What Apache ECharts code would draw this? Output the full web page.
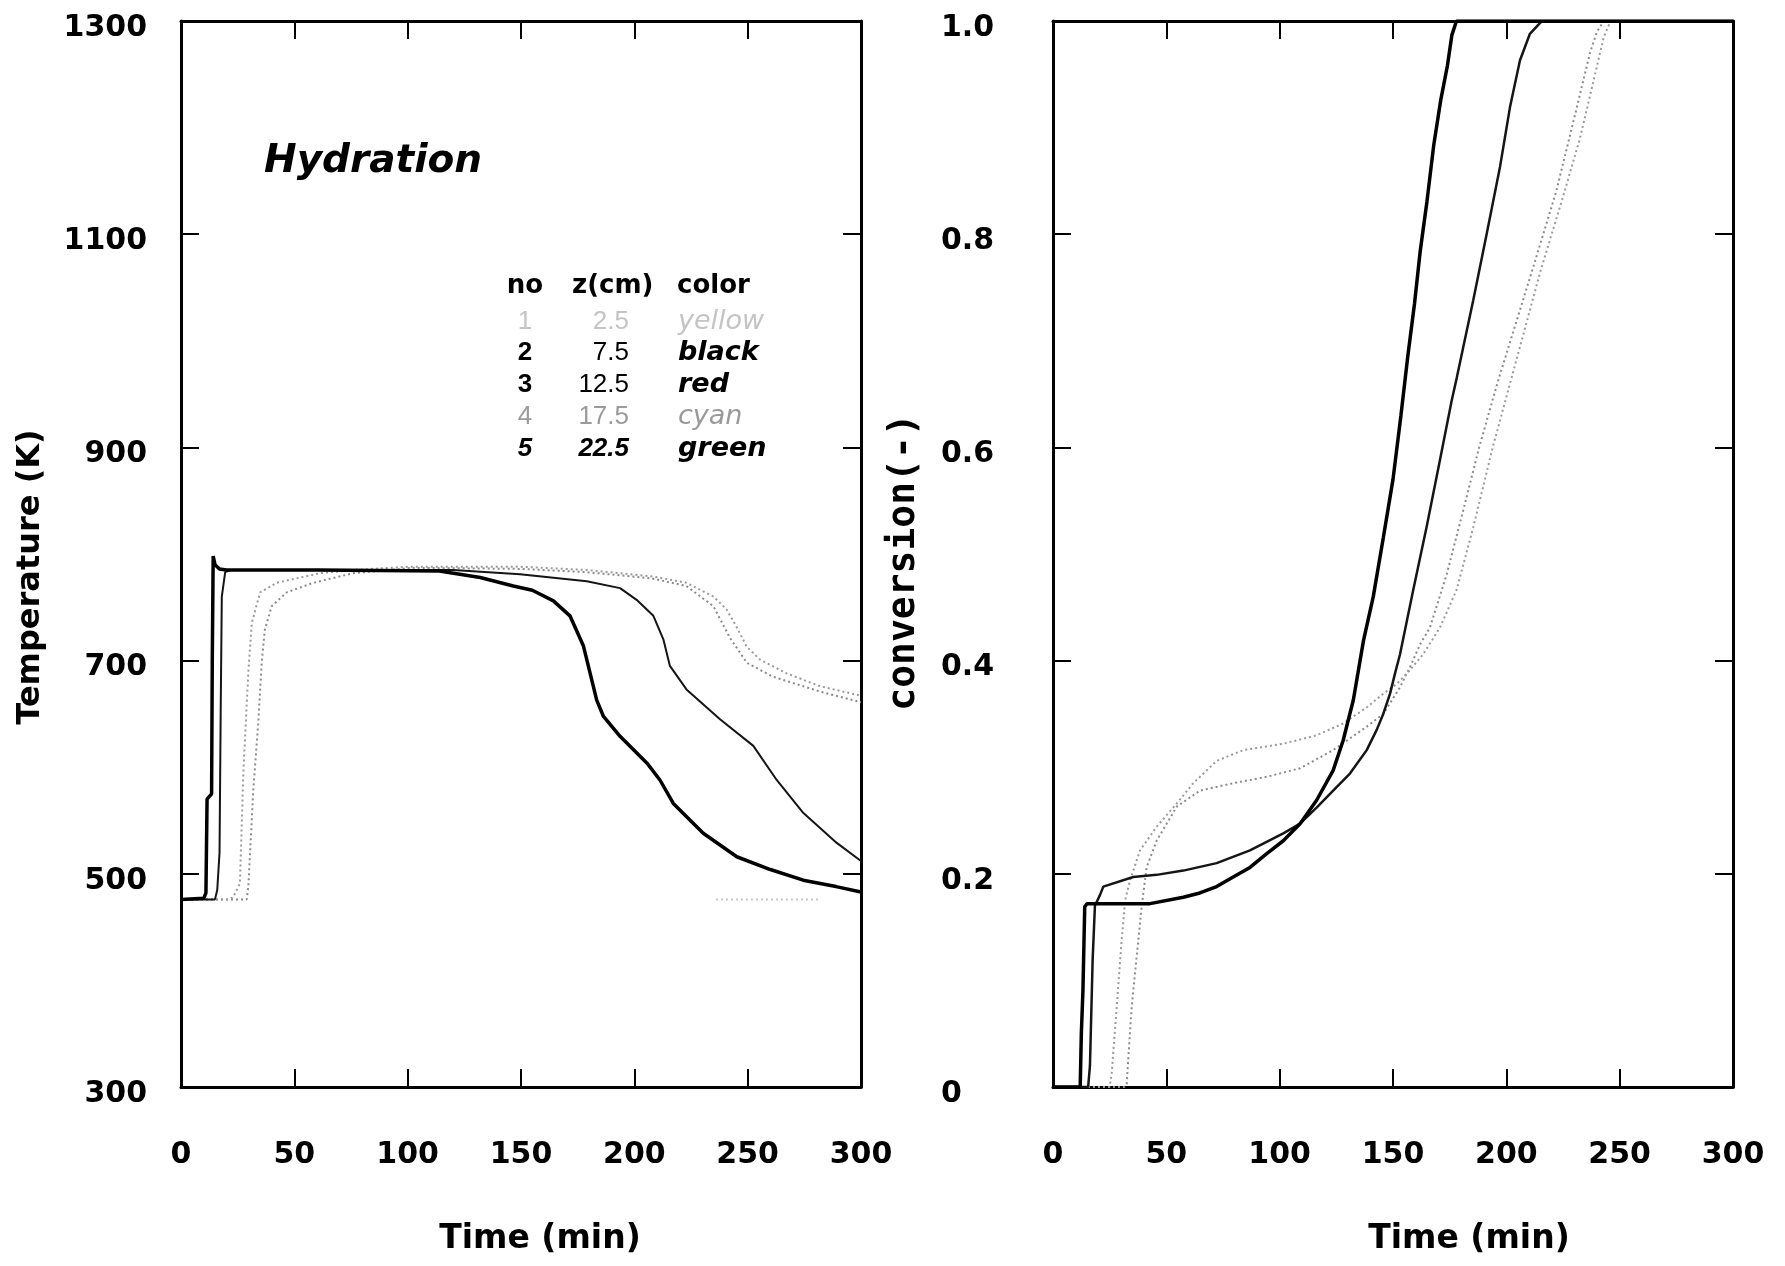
<!DOCTYPE html>
<html lang="en">
<head>
<meta charset="UTF-8">
<title>Hydration</title>
<script src="https://cdn.jsdelivr.net/npm/echarts@6/dist/echarts.min.js"></script>
<style>
    html, body { margin: 0; padding: 0; background: #fff; }
    #chart { width: 1785px; height: 1266px; }
</style>
</head>
<body>
<div id="chart"></div>
<script>
    // axis ranges / ticks
    var timeTicks = [0, 50, 100, 150, 200, 250, 300];
    var tempTicks = [300, 500, 700, 900, 1100, 1300];
    var convTicks = [0, 0.2, 0.4, 0.6, 0.8, 1.0];

    // legend table
    var legendNo = ['1', '2', '3', '4', '5'];
    var legendZ = ['2.5', '7.5', '12.5', '17.5', '22.5'];
    var legendColor = ['yellow', 'black', 'red', 'cyan', 'green'];

    // temperature (K) against time (min)
    var tempYellow = [[236, 476], [282, 476]];
    var tempBlack = [[0, 476], [10, 477], [11, 482], [11.5, 570], [13.5, 575], [13.8, 700], [14.2, 798], [15, 790],
        [17, 786], [20, 785], [60, 785], [114, 784], [132, 778], [146.6, 770], [155, 766], [164.3, 756],
        [171.6, 742], [177.5, 714], [180.4, 689], [183.4, 663], [186.3, 648], [193.7, 629], [205.5, 604],
        [211.3, 588], [217.2, 566], [230.4, 538], [245.2, 516], [260, 504], [274.5, 494], [289, 488], [300, 483]];
    var tempRed = [[0, 476], [15, 476], [16, 485], [17, 520], [17.5, 650], [18, 760], [19.5, 783], [22, 785],
        [120, 785], [149.6, 781], [179, 774.5], [193.7, 768], [201, 757], [208.4, 742], [212.8, 720], [215.7, 695],
        [223, 673], [237.8, 645], [252.5, 620], [262.8, 588], [274.6, 557], [289.3, 529], [300, 512]];
    var tempCyan = [[0, 476], [21, 476], [23, 478], [26, 491], [27.5, 595], [29.7, 689], [31.2, 735], [34.9, 764],
        [42.2, 773], [61.3, 782], [76, 785], [100, 788], [150, 788], [179, 785], [208, 779], [223, 773],
        [235, 760], [240.7, 748], [245, 732], [249.6, 713], [255.4, 701], [267.2, 688], [281.9, 676], [300, 667]];
    var tempGreen = [[0, 476], [29, 476], [29.7, 488], [31.9, 579], [34.1, 642], [35.6, 698], [37, 729], [40, 751],
        [46.6, 764], [58.4, 773], [76, 782], [102, 787], [150, 786], [179, 783], [208, 777], [223, 770],
        [234.9, 751], [242, 722], [249.6, 698], [261, 685], [281.9, 671], [300, 661]];

    // conversion (-) against time (min)
    var convBlack = [[0, 0], [12, 0], [12.5, 0.05], [13.2, 0.09], [14, 0.169], [15, 0.172], [42.8, 0.172],
        [57.5, 0.178], [64.8, 0.182], [72.2, 0.188], [79.5, 0.197], [86.9, 0.206], [94.3, 0.219], [101.6, 0.231],
        [109, 0.247], [116.3, 0.269], [123.6, 0.297], [128, 0.325], [132.5, 0.363], [137, 0.419], [141.3, 0.46],
        [145.7, 0.515], [150, 0.57], [153.5, 0.63], [156.5, 0.685], [159.5, 0.735], [162, 0.784], [165, 0.831],
        [168, 0.884], [171, 0.925], [174, 0.958], [176, 0.987], [178, 1], [300, 1]];
    var convRed = [[0, 0], [15.5, 0], [16.3, 0.02], [17.5, 0.12], [18.5, 0.17], [20.7, 0.18], [22.2, 0.188],
        [35.4, 0.197], [45.7, 0.199], [57.5, 0.203], [72.2, 0.21], [86.9, 0.222], [101.6, 0.238], [109, 0.247],
        [116.3, 0.262], [123.6, 0.278], [131, 0.294], [138.4, 0.316], [142.8, 0.335], [145.7, 0.35], [148.7, 0.369],
        [150.9, 0.388], [153.1, 0.406], [158.9, 0.466], [164.8, 0.525], [170.7, 0.588], [175.9, 0.644],
        [178.1, 0.665], [185.4, 0.738], [191.3, 0.8], [197.2, 0.863], [201.6, 0.919], [206, 0.963], [210.4, 0.988],
        [214.8, 0.998], [216, 1], [300, 1]];
    var convCyan = [[0, 0], [25, 0], [25.9, 0.013], [28.1, 0.075], [30.3, 0.138], [31.8, 0.175], [34, 0.194],
        [38.4, 0.222], [45.7, 0.244], [54.6, 0.266], [61.9, 0.285], [72.2, 0.306], [84, 0.316], [101.6, 0.322],
        [116.3, 0.33], [128, 0.341], [138.4, 0.356], [145.7, 0.369], [151.6, 0.378], [157, 0.39], [163.3, 0.406],
        [170.7, 0.431], [178, 0.466], [185.4, 0.525], [194, 0.6], [201, 0.655], [208, 0.71], [215, 0.765],
        [225, 0.835], [232.5, 0.89], [239.8, 0.956], [243, 0.985], [246, 1], [300, 1]];
    var convGreen = [[0, 0], [31.5, 0], [32.5, 0.003], [34.7, 0.075], [36.9, 0.122], [39.1, 0.169], [41.3, 0.206],
        [45.7, 0.231], [54.6, 0.263], [64.8, 0.278], [79.5, 0.285], [94.3, 0.291], [109, 0.299], [123.6, 0.316],
        [138.4, 0.338], [145.7, 0.35], [153.1, 0.375], [157.5, 0.394], [161.9, 0.415], [166.3, 0.431],
        [173.7, 0.481], [181, 0.541], [188, 0.6], [196, 0.66], [204, 0.715], [212, 0.77], [222, 0.84],
        [229.5, 0.905], [236.9, 0.97], [240, 0.99], [243, 1], [300, 1]];

    var tickFont = { fontFamily: 'DejaVu Sans', fontWeight: 'bold', fontSize: 30, color: '#000' };
    var frameLine = { show: true, onZero: false, lineStyle: { color: '#000', width: 3 } };
    var inTick = { show: true, inside: true, length: 18, lineStyle: { color: '#000', width: 2 } };

    function lastOf(a) { return a[a.length - 1]; }

    function xAxes(gridIndex, namePad) {
        var base = {
            type: 'value', gridIndex: gridIndex, min: timeTicks[0], max: lastOf(timeTicks),
            interval: timeTicks[1] - timeTicks[0], splitLine: { show: false },
            axisLine: frameLine, axisTick: inTick
        };
        return [
            Object.assign({}, base, {
                position: 'bottom',
                axisLabel: Object.assign({ margin: 53 }, tickFont),
                name: 'Time (min)', nameLocation: 'middle', nameGap: 136,
                nameTextStyle: { fontFamily: 'DejaVu Sans', fontWeight: 'bold', fontSize: 33, color: '#000', padding: [0, 0, 0, namePad] }
            }),
            Object.assign({}, base, { position: 'top', axisLabel: { show: false } })
        ];
    }

    function yAxes(gridIndex, ticks, label, name) {
        var base = {
            type: 'value', gridIndex: gridIndex, min: ticks[0], max: lastOf(ticks),
            interval: ticks[1] - ticks[0], splitLine: { show: false },
            axisLine: frameLine, axisTick: inTick
        };
        return [
            Object.assign({}, base, { position: 'left', axisLabel: label }, name),
            Object.assign({}, base, { position: 'right', axisLabel: { show: false } })
        ];
    }

    var leftY = yAxes(0, tempTicks,
        Object.assign({
            margin: 34, verticalAlign: 'top', lineHeight: 14,
            formatter: function (v) { return String(v); }
        }, tickFont),
        {
            name: 'Temperature (K)', nameLocation: 'middle', nameGap: 134,
            nameTextStyle: { fontFamily: 'DejaVu Sans', fontWeight: 'bold', fontSize: 32, color: '#000', padding: [0, 46, 0, 0] }
        });
    var rightY = yAxes(1, convTicks,
        Object.assign({
            margin: 112, align: 'left', verticalAlign: 'top', lineHeight: 14,
            formatter: function (v) { return v === 0 ? '0' : v.toFixed(1); }
        }, tickFont),
        {
            name: 'conversion(-)', nameLocation: 'middle', nameGap: 130,
            nameTextStyle: { fontFamily: 'DejaVu Sans Mono', fontWeight: 'bold', fontSize: 38, color: '#000', padding: [0, 16, 0, 0] }
        });

    function line(data, xi, yi, color, width, type, z) {
        return {
            type: 'line', data: data, xAxisIndex: xi, yAxisIndex: yi, showSymbol: false, symbol: 'none',
            lineStyle: { color: color, width: width, type: type }, z: z, silent: true
        };
    }

    // legend table as plain text
    var rowY = [322, 353, 385, 417, 449];
    var rowFill = ['#c4c4c4', '#000', '#000', '#9a9a9a', '#000'];
    var noBold = [false, true, true, false, true];
    var zBold = [false, false, false, false, true];
    var wordBold = [false, true, true, false, true];
    var numItalic = [false, false, false, false, true];

    function txt(s, x, y, opt) {
        return {
            type: 'text', x: x, y: y, silent: true,
            style: Object.assign({ text: s, fill: '#000', textVerticalAlign: 'middle' }, opt)
        };
    }

    var graphics = [
        txt('Hydration', 264, 162, { font: 'italic bold 39px "DejaVu Sans"', textAlign: 'left' }),
        txt('no', 525, 286, { font: 'bold 26px "DejaVu Sans"', textAlign: 'center' }),
        txt('z(cm)', 572, 286, { font: 'bold 26px "DejaVu Sans"', textAlign: 'left' }),
        txt('color', 677, 286, { font: 'bold 26px "DejaVu Sans"', textAlign: 'left' })
    ];
    for (var i = 0; i < legendNo.length; i++) {
        var st = numItalic[i] ? 'italic ' : '';
        graphics.push(txt(legendNo[i], 525, rowY[i], {
            font: st + (noBold[i] ? 'bold ' : '') + '26px "Liberation Sans"', textAlign: 'center', fill: rowFill[i]
        }));
        graphics.push(txt(legendZ[i], 629, rowY[i], {
            font: st + (zBold[i] ? 'bold ' : '') + '26px "Liberation Sans"', textAlign: 'right', fill: rowFill[i]
        }));
        graphics.push(txt(legendColor[i], 678, rowY[i], {
            font: 'italic ' + (wordBold[i] ? 'bold ' : '') + '27px "DejaVu Sans"', textAlign: 'left', fill: rowFill[i]
        }));
    }

    var myChart = echarts.init(document.getElementById('chart'));
    myChart.setOption({
        animation: false,
        backgroundColor: '#fff',
        grid: [
            { left: 181, top: 21, width: 680, height: 1066 },
            { left: 1053, top: 21, width: 680, height: 1066 }
        ],
        xAxis: xAxes(0, 38).concat(xAxes(1, 152)),
        yAxis: leftY.concat(rightY),
        graphic: graphics,
        series: [
            line(tempYellow, 0, 0, '#c8c8c8', 2, [2, 3], 2),
            line(tempGreen, 0, 0, '#8a8a8a', 2, [2, 3], 3),
            line(tempCyan, 0, 0, '#9a9a9a', 2, [2, 3], 3),
            line(tempRed, 0, 0, '#151515', 2, 'solid', 4),
            line(tempBlack, 0, 0, '#000', 3.5, 'solid', 5),
            line(convGreen, 2, 2, '#8a8a8a', 2, [2, 3], 3),
            line(convCyan, 2, 2, '#9a9a9a', 2, [2, 3], 3),
            line(convRed, 2, 2, '#151515', 2.5, 'solid', 4),
            line(convBlack, 2, 2, '#000', 3.5, 'solid', 5)
        ]
    });
</script>
</body>
</html>
